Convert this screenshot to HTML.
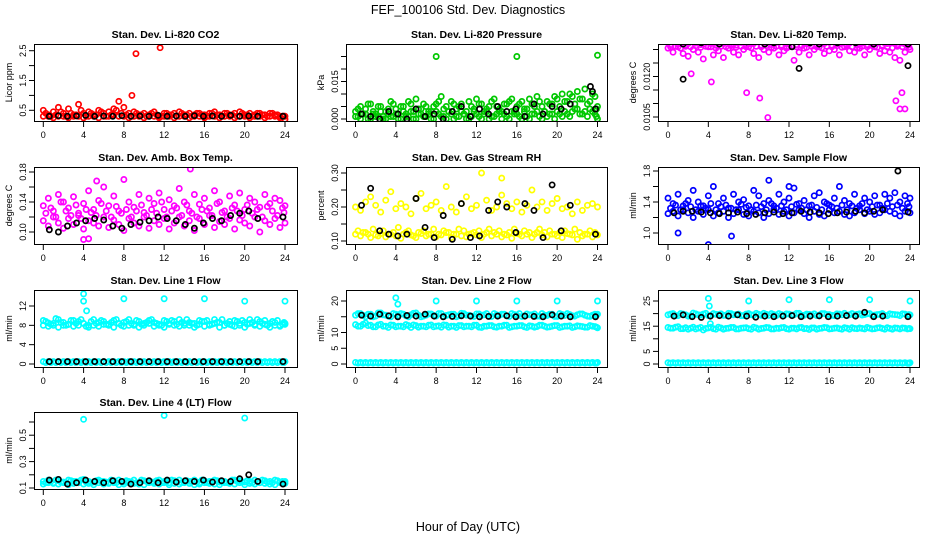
<!DOCTYPE html>
<html><head><meta charset="utf-8"><style>
html,body{margin:0;padding:0;background:#fff;}
svg{display:block;font-family:"Liberation Sans",sans-serif;}
</style></head><body>
<svg id="chart" width="936" height="540" viewBox="0 0 936 540">
<text x="468" y="14" text-anchor="middle" font-size="12.5">FEF_100106  Std. Dev. Diagnostics</text>
<text x="468" y="531" text-anchor="middle" font-size="12.5">Hour of Day (UTC)</text>
</svg>
<script>
const HOURS=[0,0.5,1,1.5,2,2.5,3,3.5,4,4.5,5,5.5,6,6.5,7,7.5,8,8.5,9,9.5,10,10.5,11,11.5,12,12.5,13,13.5,14,14.5,15,15.5,16,16.5,17,17.5,18,18.5,19,19.5,20,20.5,21,21.5,22,22.5,23,23.5,24];
const HOURS_B=[0.25,0.75,1.25,1.75,2.25,2.75,3.25,3.75,4.25,4.75,5.25,5.75,6.25,6.75,7.25,7.75,8.25,8.75,9.25,9.75,10.25,10.75,11.25,11.75,12.25,12.75,13.25,13.75,14.25,14.75,15.25,15.75,16.25,16.75,17.25,17.75,18.25,18.75,19.25,19.75,20.25,20.75,21.25,21.75,22.25,22.75,23.25,23.75,23.9];
const HOURS_K=[0.6,1.5,2.4,3.3,4.2,5.1,6.0,6.9,7.8,8.7,9.6,10.5,11.4,12.3,13.2,14.1,15.0,15.9,16.8,17.7,18.6,19.5,20.4,21.3,23.8];
const X_TICKS=[0,4,8,12,16,20,24];
const TITLES=["Stan. Dev. Li-820 CO2","Stan. Dev. Li-820 Pressure","Stan. Dev. Li-820 Temp.","Stan. Dev. Amb. Box Temp.","Stan. Dev. Gas Stream RH","Stan. Dev. Sample Flow","Stan. Dev. Line 1 Flow","Stan. Dev. Line 2 Flow","Stan. Dev. Line 3 Flow","Stan. Dev. Line 4 (LT) Flow"];
const Y_LABELS=["Licor ppm","kPa","degrees C","degrees C","percent","ml/min","ml/min","ml/min","ml/min","ml/min"];
const COLORS=["#ff0000","#00c800","#ff00ff","#ff00ff","#ffff00","#0000ff","#00ffff","#00ffff","#00ffff","#00ffff"];
const Y_TICKS=[[0.5,1,1.5,2,2.5],[0,0.005,0.01,0.015,0.02,0.025],[0.0105,0.011,0.0115,0.012,0.0125,0.013],[0.10,0.12,0.14,0.16,0.18],[0.10,0.15,0.20,0.25,0.30],[1.0,1.2,1.4,1.6,1.8],[0,4,8,12],[0,5,10,15,20],[0,5,10,15,20,25],[0.1,0.2,0.3,0.4,0.5,0.6]];
const Y_TICK_LABELS=[["0.5","","1.5","","2.5"],["0.000","","","0.015","",""],["0.0105","","","0.0120","",""],["0.10","","0.14","","0.18"],["0.10","","0.20","","0.30"],["1.0","","1.4","","1.8"],["0","4","8","12"],["0","5","10","","20"],["0","5","","15","","25"],["0.1","","0.3","","0.5",""]];
// series values at HOURS
const S1=[[0.5,0.35,0.45,0.6,0.4,0.55,0.35,0.7,0.4,0.45,0.35,0.5,0.4,0.45,0.55,0.8,0.6,0.4,0.45,0.35,0.4,0.35,0.45,0.3,0.4,0.35,0.4,0.45,0.35,0.4,0.35,0.4,0.35,0.4,0.45,0.35,0.4,0.35,0.4,0.45,0.35,0.4,0.35,0.4,0.35,0.4,0.35,0.3,0.2],
[0.3,0.3,0.25,0.3,0.3,0.25,0.3,0.3,0.25,0.3,0.3,0.25,0.3,0.3,0.35,0.3,0.3,0.25,0.3,0.3,0.25,0.3,0.3,0.25,0.3,0.3,0.25,0.3,0.3,0.25,0.3,0.3,0.25,0.3,0.3,0.25,0.3,0.3,0.25,0.3,0.3,0.25,0.3,0.3,0.25,0.3,0.3,0.25,0.3]];
const K1=[0.3,0.32,0.3,0.31,0.33,0.3,0.31,0.3,0.32,0.3,0.31,0.3,0.33,0.3,0.31,0.3,0.32,0.3,0.31,0.3,0.33,0.3,0.31,0.3,0.3];
const O1=[[9.2,2.4,1],[11.6,2.6,1],[8.8,1.0,1]];
const S2=[[0.003,0.005,0.004,0.006,0.002,0.005,0.003,0.007,0.004,0.005,0.002,0.006,0.008,0.004,0.005,0.003,0.006,0.009,0.005,0.007,0.004,0.006,0.003,0.005,0.008,0.006,0.004,0.007,0.005,0.003,0.006,0.008,0.005,0.007,0.004,0.006,0.009,0.005,0.007,0.006,0.008,0.01,0.007,0.009,0.011,0.008,0.006,0.01,0.005],
[0.001,0,0.002,0,0.001,0.003,0,0.001,0.002,0,0.001,0.003,0,0.002,0.001,0,0.003,0.001,0,0.002,0.001,0.003,0,0.001,0.002,0,0.003,0.001,0.002,0,0.001,0.003,0.002,0,0.001,0.002,0.003,0,0.001,0.002,0.003,0.001,0.002,0.003,0.004,0.002,0.001,0.003,0]];
const K2=[0.002,0.001,0,0.003,0.002,0,0.004,0.001,0.002,0,0.003,0.005,0.001,0.004,0.002,0.005,0.003,0.004,0.001,0.006,0.002,0.005,0.004,0.006,0.004];
const O2=[[8,0.025,1],[16,0.025,1],[24,0.0255,1],[23.3,0.013,0],[23.5,0.011,0]];
const S3=[[0.01325,0.0133,0.0132,0.01328,0.01322,0.0133,0.01326,0.0132,0.01332,0.01324,0.0133,0.01322,0.01328,0.0132,0.01332,0.01326,0.0133,0.01322,0.01328,0.01324,0.0133,0.0132,0.01326,0.01332,0.01322,0.01328,0.0133,0.01324,0.0132,0.01328,0.01332,0.01322,0.01326,0.0133,0.0132,0.01328,0.01324,0.01332,0.0132,0.01326,0.0133,0.01322,0.01328,0.01324,0.0133,0.01322,0.01326,0.0132,0.01328],
[0.01305,0.0129,0.0131,0.01285,0.01275,0.013,0.0129,0.01265,0.0131,0.0128,0.01295,0.0127,0.01305,0.0129,0.0128,0.013,0.0131,0.01285,0.0127,0.013,0.0129,0.01305,0.0128,0.01295,0.0131,0.0126,0.0129,0.01305,0.0128,0.013,0.0131,0.01285,0.01295,0.013,0.0128,0.0131,0.01295,0.0129,0.01305,0.0128,0.013,0.0131,0.01285,0.01295,0.0129,0.0127,0.0126,0.0129,0.013]];
const K3=[0.0133,0.0132,0.0133,0.01325,0.0133,0.0132,0.0133,0.0133,0.01328,0.0133,0.0132,0.01325,0.0133,0.0131,0.0133,0.01325,0.0132,0.0133,0.01325,0.0133,0.01325,0.0133,0.0132,0.0133,0.0132];
const O3=[[9.9,0.01048,1],[9.1,0.0112,1],[7.8,0.0114,1],[23,0.0108,1],[23.5,0.0108,1],[22.6,0.0111,1],[23.2,0.0114,1],[4.3,0.0118,1],[2.3,0.0121,1],[1.5,0.0119,0],[13,0.0123,0],[23.8,0.0124,0]];
const S4=[[0.135,0.145,0.128,0.15,0.14,0.132,0.147,0.125,0.138,0.155,0.13,0.142,0.16,0.135,0.148,0.128,0.17,0.14,0.133,0.15,0.126,0.145,0.138,0.152,0.13,0.143,0.135,0.158,0.14,0.128,0.15,0.137,0.145,0.132,0.155,0.14,0.128,0.148,0.136,0.152,0.13,0.145,0.14,0.133,0.15,0.138,0.145,0.142,0.135],
[0.115,0.108,0.12,0.112,0.105,0.118,0.11,0.122,0.104,0.115,0.112,0.108,0.12,0.106,0.116,0.11,0.102,0.118,0.112,0.108,0.12,0.105,0.115,0.11,0.118,0.104,0.112,0.12,0.108,0.115,0.102,0.118,0.11,0.122,0.106,0.114,0.11,0.118,0.104,0.116,0.112,0.108,0.12,0.1,0.115,0.11,0.118,0.106,0.112]];
const K4=[0.103,0.1,0.108,0.112,0.115,0.118,0.116,0.108,0.105,0.11,0.113,0.115,0.12,0.118,0.115,0.11,0.105,0.112,0.118,0.115,0.122,0.125,0.128,0.118,0.12];
const O4=[[14.6,0.184,1],[5.3,0.168,1],[4,0.09,1],[4.5,0.091,1]];
const S5=[[0.2,0.19,0.215,0.23,0.205,0.185,0.22,0.245,0.195,0.21,0.2,0.18,0.225,0.24,0.195,0.205,0.215,0.19,0.26,0.2,0.185,0.21,0.23,0.195,0.205,0.3,0.22,0.19,0.2,0.235,0.21,0.195,0.215,0.185,0.205,0.25,0.2,0.215,0.19,0.21,0.225,0.195,0.2,0.18,0.215,0.19,0.205,0.21,0.2],
[0.12,0.115,0.125,0.11,0.118,0.122,0.112,0.12,0.115,0.108,0.125,0.118,0.11,0.122,0.115,0.12,0.112,0.118,0.125,0.11,0.12,0.115,0.112,0.122,0.118,0.11,0.125,0.115,0.12,0.112,0.118,0.108,0.122,0.115,0.12,0.11,0.125,0.118,0.112,0.12,0.115,0.11,0.122,0.118,0.105,0.115,0.12,0.112,0.118]];
const K5=[0.205,0.255,0.13,0.12,0.115,0.12,0.225,0.14,0.11,0.175,0.105,0.21,0.11,0.115,0.19,0.215,0.2,0.125,0.21,0.19,0.11,0.265,0.13,0.205,0.12];
const O5=[[14.5,0.285,1]];
const S6=[[1.45,1.38,1.5,1.35,1.42,1.55,1.4,1.35,1.48,1.6,1.38,1.45,1.32,1.5,1.4,1.43,1.35,1.55,1.48,1.38,1.42,1.35,1.5,1.4,1.45,1.58,1.38,1.42,1.35,1.48,1.52,1.4,1.36,1.45,1.6,1.42,1.38,1.5,1.35,1.45,1.4,1.48,1.36,1.5,1.45,1.52,1.4,1.48,1.45],
[1.25,1.28,1.22,1.3,1.26,1.2,1.28,1.24,1.3,1.22,1.26,1.28,1.2,1.25,1.3,1.24,1.22,1.28,1.26,1.2,1.25,1.3,1.24,1.28,1.22,1.26,1.3,1.25,1.2,1.28,1.24,1.22,1.3,1.26,1.28,1.24,1.22,1.26,1.3,1.25,1.28,1.24,1.26,1.3,1.28,1.25,1.22,1.28,1.26]];
const K6=[1.26,1.28,1.28,1.27,1.26,1.25,1.26,1.27,1.25,1.24,1.26,1.27,1.25,1.26,1.28,1.27,1.26,1.25,1.26,1.27,1.28,1.26,1.28,1.3,1.27];
const O6=[[1,1.0,1],[4,0.85,1],[6.3,0.96,1],[10,1.68,1],[12,1.6,1],[22.8,1.8,0]];
const S7=[[9,8.5,8,9.2,8.6,8.2,9,8.8,8.4,8,9.2,8.6,8.8,8.2,9,8.4,8.6,9.2,8,8.8,8.4,9,8.6,8.2,9,8.4,8.8,9.2,8,8.6,8.4,9,8.8,8.2,9.2,8.6,8,8.8,9,8.4,8.6,9.2,8.2,8.8,9,8.4,8.6,8,8.4],
[8,7.8,8.4,7.6,8,8.2,7.8,8,8.4,7.6,8,7.8,8.2,8,7.6,8.4,7.8,8,8.2,7.6,8,8.4,7.8,8,7.6,8.2,8,7.8,8.4,8,7.6,8.2,7.8,8,8.4,7.6,8,8.2,7.8,8,7.6,8.4,8,7.8,8.2,7.6,8,7.8,8.2],
[0.5,0.5,0.5,0.5,0.5,0.5,0.5,0.5,0.5,0.5,0.5,0.5,0.5,0.5,0.5,0.5,0.5,0.5,0.5,0.5,0.5,0.5,0.5,0.5,0.5,0.5,0.5,0.5,0.5,0.5,0.5,0.5,0.5,0.5,0.5,0.5,0.5,0.5,0.5,0.5,0.5,0.5,0.5,0.5,0.5,0.5,0.5,0.5,0.5]];
const K7=[0.5,0.5,0.5,0.5,0.5,0.5,0.5,0.5,0.5,0.5,0.5,0.5,0.5,0.5,0.5,0.5,0.5,0.5,0.5,0.5,0.5,0.5,0.5,0.5,0.5];
const O7=[[4,14.5,1],[4,13,1],[4.3,11,1],[8,13.5,1],[12,13.5,1],[16,13.5,1],[20,13,1],[24,13,1]];
const S8=[[15.5,16,15,15.8,15.2,16.2,15.5,15,15.8,16,15.3,15.6,16.2,15,15.5,15.9,15.2,16,15.4,15.8,15,16.1,15.5,15.2,15.9,15.4,16,15.1,15.6,15.8,15.3,16,15.5,15.1,15.9,15.6,15.2,16,15.4,15.8,15.1,15.7,16,15.3,15.6,15.9,15.2,15.5,15.8],
[12.5,12,13,12.3,11.8,12.6,12,12.4,11.8,12,12.5,11.6,12.2,12,11.8,12.4,12,11.7,12.3,12,11.6,12.2,12,11.8,12.3,11.6,12,12.2,11.7,12,12.3,11.8,12,12.2,11.6,12,11.9,12.3,11.7,12,12.2,11.8,12,11.6,12.1,11.9,11.7,12,11.5],
[0.5,0.5,0.5,0.5,0.5,0.5,0.5,0.5,0.5,0.5,0.5,0.5,0.5,0.5,0.5,0.5,0.5,0.5,0.5,0.5,0.5,0.5,0.5,0.5,0.5,0.5,0.5,0.5,0.5,0.5,0.5,0.5,0.5,0.5,0.5,0.5,0.5,0.5,0.5,0.5,0.5,0.5,0.5,0.5,0.5,0.5,0.5,0.5,0.5]];
const K8=[15.5,15.2,15.8,15.3,15,15.4,15.2,15.8,15.2,15,15.1,15.3,15.2,15,15.1,15.2,15.3,15,15.2,15.1,15,15.6,15.2,15,15];
const O8=[[4,21,1],[4.2,19,1],[8,20,1],[12,20,1],[16,20,1],[20,20,1],[24,20,1]];
const S9=[[19.5,20,19.2,19.8,19,20.2,19.5,19.8,19.2,20,19.6,19.3,20.1,19.5,19.8,19.2,20,19.4,19.7,20.1,19.3,19.6,20,19.2,19.8,19.5,20.1,19.3,19.7,19.9,19.4,20,19.6,19.2,19.8,20.1,19.5,19.3,19.9,19.6,20,19.4,19.7,19.3,19.9,19.6,19.2,19.8,19.5],
[14.5,14.2,14.8,14,13.8,14.6,14.2,13.5,14.3,14,14.6,13.8,14.2,14.5,13.9,14.3,14,14.6,13.8,14.2,14.4,13.9,14.1,14.5,13.8,14.2,14.4,14,13.7,14.3,14.1,14.5,13.9,14.2,14,14.4,13.8,14.1,14.3,13.9,14.2,14,14.4,13.8,14.1,14.3,13.9,14.2,14],
[0.5,0.5,0.5,0.5,0.5,0.5,0.5,0.5,0.5,0.5,0.5,0.5,0.5,0.5,0.5,0.5,0.5,0.5,0.5,0.5,0.5,0.5,0.5,0.5,0.5,0.5,0.5,0.5,0.5,0.5,0.5,0.5,0.5,0.5,0.5,0.5,0.5,0.5,0.5,0.5,0.5,0.5,0.5,0.5,0.5,0.5,0.5,0.5,0.5]];
const K9=[19,19.5,18.8,18.5,19,19.2,19,19.5,19,18.6,19,18.8,19,19.2,18.8,19,19.1,18.8,19,19.2,19,20.5,18.8,19,18.8];
const O9=[[4,26,1],[4.1,23,1],[4.2,16,1],[8,25,1],[12,25.5,1],[16,25.5,1],[20,25.5,1],[24,25,1]];
const S10=[[0.15,0.16,0.14,0.155,0.145,0.16,0.15,0.14,0.165,0.15,0.145,0.16,0.15,0.14,0.155,0.16,0.145,0.15,0.16,0.14,0.155,0.15,0.145,0.16,0.15,0.14,0.155,0.16,0.145,0.15,0.16,0.14,0.155,0.15,0.16,0.145,0.15,0.14,0.16,0.155,0.145,0.15,0.16,0.14,0.155,0.15,0.16,0.145,0.15],
[0.13,0.14,0.135,0.13,0.14,0.125,0.135,0.14,0.13,0.135,0.125,0.14,0.13,0.135,0.14,0.125,0.13,0.14,0.135,0.13,0.125,0.14,0.135,0.13,0.14,0.125,0.135,0.13,0.14,0.135,0.125,0.13,0.14,0.135,0.13,0.125,0.14,0.135,0.13,0.14,0.125,0.135,0.13,0.14,0.135,0.13,0.125,0.14,0.135]];
const K10=[0.16,0.165,0.13,0.14,0.16,0.15,0.14,0.155,0.15,0.13,0.14,0.155,0.14,0.16,0.145,0.155,0.15,0.16,0.145,0.155,0.15,0.17,0.2,0.15,0.13];
const O10=[[4,0.62,1],[12,0.65,1],[20,0.63,1]];
// extra colored series at HOURS_B (densify bands)
const B1=[[0.4,0.3,0.35,0.45,0.3,0.4,0.35,0.5,0.3,0.4,0.35,0.45,0.3,0.35,0.5,0.4,0.35,0.3,0.4,0.35,0.3,0.4,0.35,0.3,0.4,0.35,0.3,0.4,0.35,0.3,0.4,0.35,0.3,0.4,0.35,0.3,0.4,0.35,0.3,0.4,0.35,0.3,0.4,0.35,0.3,0.4,0.35,0.3,0.3]];
const B2=[[0.004,0.002,0.006,0.003,0.005,0.001,0.004,0.006,0.002,0.005,0.007,0.003,0.004,0.006,0.002,0.005,0.007,0.004,0.003,0.006,0.005,0.002,0.007,0.004,0.006,0.003,0.005,0.008,0.004,0.006,0.007,0.003,0.006,0.004,0.008,0.005,0.007,0.003,0.006,0.009,0.005,0.007,0.01,0.006,0.008,0.012,0.007,0.009,0.004],
[0.001,0.002,0,0.002,0.001,0,0.002,0.001,0,0.003,0.001,0,0.002,0.001,0.003,0,0.002,0.001,0.003,0,0.001,0.002,0,0.003,0.001,0.002,0,0.001,0.003,0.002,0,0.002,0.001,0.003,0,0.002,0.001,0.003,0.002,0,0.002,0.003,0.001,0.004,0.002,0.003,0.004,0.002,0.001]];
const B3=[[0.01318,0.01327,0.01322,0.01316,0.0133,0.01324,0.01318,0.01328,0.01322,0.01316,0.01326,0.0133,0.0132,0.01316,0.01326,0.01318,0.01322,0.0133,0.01316,0.01324,0.01318,0.01328,0.01316,0.01322,0.0133,0.01318,0.01316,0.01322,0.01328,0.01318,0.01324,0.0133,0.01316,0.01322,0.01326,0.01318,0.0133,0.01316,0.01324,0.01318,0.01322,0.01328,0.01316,0.01322,0.0133,0.01318,0.01324,0.01316,0.01322],
[0.0131,0.01312,0.01305,0.01312,0.0131,0.01314,0.01308,0.01312,0.0131,0.01305,0.01312,0.0131,0.01314,0.01308,0.01312,0.0131,0.01306,0.01312,0.0131,0.01314,0.01308,0.01312,0.0131,0.01305,0.01312,0.0131,0.01314,0.01308,0.01312,0.0131,0.01306,0.01312,0.0131,0.01314,0.01308,0.01312,0.0131,0.01305,0.01312,0.0131,0.01314,0.01308,0.01312,0.0131,0.01306,0.01312,0.0131,0.01314,0.01308]];
const B4=[[0.125,0.132,0.12,0.14,0.128,0.122,0.136,0.118,0.13,0.126,0.122,0.138,0.128,0.12,0.134,0.125,0.13,0.12,0.128,0.136,0.122,0.13,0.125,0.14,0.12,0.128,0.132,0.122,0.136,0.125,0.12,0.13,0.128,0.122,0.138,0.126,0.12,0.132,0.128,0.122,0.136,0.125,0.13,0.12,0.134,0.128,0.122,0.132,0.126]];
const B5=[[0.13,0.125,0.12,0.135,0.115,0.13,0.12,0.125,0.14,0.12,0.13,0.115,0.125,0.13,0.12,0.135,0.12,0.13,0.125,0.12,0.135,0.13,0.12,0.125,0.13,0.12,0.135,0.125,0.13,0.12,0.125,0.135,0.12,0.13,0.125,0.12,0.135,0.125,0.13,0.12,0.125,0.13,0.12,0.135,0.125,0.12,0.13,0.125,0.12]];
const B6=[[1.32,1.36,1.3,1.38,1.34,1.3,1.35,1.32,1.38,1.3,1.34,1.36,1.32,1.3,1.37,1.33,1.3,1.36,1.34,1.3,1.38,1.32,1.35,1.3,1.34,1.37,1.32,1.3,1.36,1.33,1.3,1.38,1.34,1.32,1.36,1.3,1.35,1.32,1.38,1.3,1.34,1.36,1.32,1.38,1.34,1.36,1.32,1.38,1.34]];
const B7=[[8.8,8.2,9.4,8.6,8,9,8.4,9.2,7.8,8.8,8.4,9,8.2,8.6,9.2,8,8.8,8.4,9,8.2,8.6,9.2,8.4,8,8.8,9,8.2,8.6,9.2,8.4,8,8.8,9,8.2,8.6,9.2,8.4,8,8.8,9,8.2,8.6,9.2,8.4,8,8.8,9,8.2,8.6],
[0.3,0.3,0.3,0.3,0.3,0.3,0.3,0.3,0.3,0.3,0.3,0.3,0.3,0.3,0.3,0.3,0.3,0.3,0.3,0.3,0.3,0.3,0.3,0.3,0.3,0.3,0.3,0.3,0.3,0.3,0.3,0.3,0.3,0.3,0.3,0.3,0.3,0.3,0.3,0.3,0.3,0.3,0.3,0.3,0.3,0.3,0.3,0.3,0.3]];
const B8=[[16,15.4,15.8,15,16.2,15.6,15.2,16,15.4,15.8,15,16.1,15.5,15.2,15.9,15.4,16,15.1,15.6,15.8,15.3,16,15.5,15.1,15.9,15.6,15.2,16,15.4,15.8,15.1,15.7,16,15.3,15.6,15.9,15.2,15.5,15.8,15.1,16,15.4,15.7,15.2,15.9,15.5,15.1,15.8,15.4],
[12,12.6,12.2,11.8,12.4,12,11.6,12.3,12,11.8,12.2,12.4,11.7,12,12.3,11.8,12.1,12.4,11.7,12,12.2,11.8,12,12.3,11.7,12,12.2,11.8,12,12.3,11.6,12,12.2,11.8,12.1,11.7,12.3,12,11.8,12.2,11.6,12,12.1,11.8,12,11.7,12.2,11.9,11.7],
[0.3,0.3,0.3,0.3,0.3,0.3,0.3,0.3,0.3,0.3,0.3,0.3,0.3,0.3,0.3,0.3,0.3,0.3,0.3,0.3,0.3,0.3,0.3,0.3,0.3,0.3,0.3,0.3,0.3,0.3,0.3,0.3,0.3,0.3,0.3,0.3,0.3,0.3,0.3,0.3,0.3,0.3,0.3,0.3,0.3,0.3,0.3,0.3,0.3]];
const B9=[[19.8,19.2,20,19.5,19.1,19.9,19.4,20.1,19.2,19.7,19.9,19.3,20,19.6,19.2,19.8,19.5,20.1,19.3,19.7,20,19.2,19.6,19.9,19.4,20.1,19.3,19.8,19.5,19.2,20,19.6,19.3,19.9,19.5,19.2,20,19.7,19.4,19.9,19.3,19.6,20,19.2,19.7,19.5,19.9,19.3,19.6],
[14.2,14.6,14,14.4,14.2,13.9,14.5,14.1,14.6,13.8,14.3,14.1,14.5,13.9,14.2,14.4,13.8,14.3,14.1,14.5,13.9,14.2,14.4,14,14.2,13.9,14.5,14.1,14.3,13.8,14.2,14.4,14,14.3,13.8,14.2,14.4,14,14.1,14.5,13.9,14.3,14.1,14.4,13.8,14.2,14.3,13.9,14.1],
[0.3,0.3,0.3,0.3,0.3,0.3,0.3,0.3,0.3,0.3,0.3,0.3,0.3,0.3,0.3,0.3,0.3,0.3,0.3,0.3,0.3,0.3,0.3,0.3,0.3,0.3,0.3,0.3,0.3,0.3,0.3,0.3,0.3,0.3,0.3,0.3,0.3,0.3,0.3,0.3,0.3,0.3,0.3,0.3,0.3,0.3,0.3,0.3,0.3]];
const B10=[[0.14,0.15,0.16,0.145,0.14,0.155,0.15,0.16,0.145,0.14,0.155,0.15,0.145,0.16,0.14,0.15,0.155,0.145,0.14,0.16,0.15,0.145,0.155,0.14,0.15,0.16,0.145,0.14,0.155,0.15,0.145,0.16,0.14,0.15,0.155,0.145,0.14,0.16,0.15,0.145,0.155,0.14,0.15,0.16,0.145,0.14,0.155,0.15,0.145]];

const SERIES=[S1,S2,S3,S4,S5,S6,S7,S8,S9,S10];
const SERIES_B=[B1,B2,B3,B4,B5,B6,B7,B8,B9,B10];
const BLACK=[K1,K2,K3,K4,K5,K6,K7,K8,K9,K10];
const OUTLIERS=[O1,O2,O3,O4,O5,O6,O7,O8,O9,O10];
const COL_X=[[43.3,285],[355.5,597.5],[668,910]];
const BOX_X=[[34,297],[346,607],[658,919]];
const ROW_Y=[[44,121],[167,244],[290,367],[412,489]];
const YMAP=[[0.5,110.3,2.5,50.7],[0,119,0.015,81.5],[0.0105,117,0.012,76.5],[0.10,232,0.18,172],[0.10,241,0.30,173],[1.0,233,1.8,171],[0,364,12,306],[0,364,20,301],[0,364,25,301],[0.1,488,0.6,422]];

const NS="http://www.w3.org/2000/svg";
const svg=document.getElementById('chart');
function el(tag,attrs,parent){const e=document.createElementNS(NS,tag);for(const k in attrs)e.setAttribute(k,attrs[k]);(parent||svg).appendChild(e);return e;}

for(let p=0;p<10;p++){
  const col=p%3,row=Math.floor(p/3);
  const g=el('g',{});
  
  
  const [bx0,bx1]=BOX_X[col],[by0,by1]=ROW_Y[row];
  const [h0,h1]=COL_X[col];
  const xs=h=>h0+(h1-h0)*h/24;
  const m=YMAP[p];
  const ys=v=>m[1]+(v-m[0])*(m[3]-m[1])/(m[2]-m[0]);
  const cx=(bx0+bx1)/2;
  const t=el('text',{x:cx,y:by0-6,'text-anchor':'middle','font-size':'10.5','font-weight':'bold'},g);
  t.textContent=TITLES[p];
  
  
  const cp=el('clipPath',{id:'cp'+p},g);
  el('rect',{x:bx0,y:by0,width:bx1-bx0,height:by1-by0},cp);
  const pts=el('g',{'clip-path':'url(#cp'+p+')',fill:'none','stroke-width':'1.7'},g);
  
  
  SERIES[p].forEach(arr=>{arr.forEach((v,i)=>{
    const c=el('circle',{cx:xs(HOURS[i]),cy:ys(v),r:2.6,stroke:COLORS[p]},pts);
    
    
  });});
  SERIES_B[p].forEach(arr=>{arr.forEach((v,i)=>{
    const c=el('circle',{cx:xs(HOURS_B[i]),cy:ys(v),r:2.6,stroke:COLORS[p]},pts);
    
    
  });});
  OUTLIERS[p].forEach(o=>{
    const c=el('circle',{cx:xs(o[0]),cy:ys(o[1]),r:2.6,stroke:o[2]?COLORS[p]:'#000'},pts);
    
    
  });
  BLACK[p].forEach((v,i)=>{
    const c=el('circle',{cx:xs(HOURS_K[i]),cy:ys(v),r:2.6,stroke:'#000'},pts);
    
    
  });
  const box=el('rect',{x:bx0+0.5,y:by0+0.5,width:bx1-bx0,height:by1-by0,fill:'none',stroke:'#000','stroke-width':'1'},g);
  
  
  X_TICKS.forEach(h=>{
    el('line',{x1:xs(h),x2:xs(h),y1:by1,y2:by1+6,stroke:'#000'},g);
    const tx=el('text',{x:xs(h),y:by1+17,'text-anchor':'middle','font-size':'9'},g);
    tx.textContent=h;
    
    
  });
  Y_TICKS[p].forEach((v,i)=>{
    const y=ys(v);
    if(y<by0-1||y>by1+1)return;
    el('line',{x1:bx0-5,x2:bx0,y1:y,y2:y,stroke:'#000'},g);
    const lab=Y_TICK_LABELS[p][i];
    if(lab){
      const ty=el('text',{x:bx0-8,y:y,'text-anchor':'middle','font-size':'9',transform:'rotate(-90 '+(bx0-8)+' '+y+')'},g);
      ty.textContent=lab;
      
      
    }
  });
  const yl=el('text',{x:bx0-22,y:(by0+by1)/2,'text-anchor':'middle','font-size':'9',transform:'rotate(-90 '+(bx0-22)+' '+((by0+by1)/2)+')'},g);
  yl.textContent=Y_LABELS[p];
  
  
}
</script>
</body></html>
